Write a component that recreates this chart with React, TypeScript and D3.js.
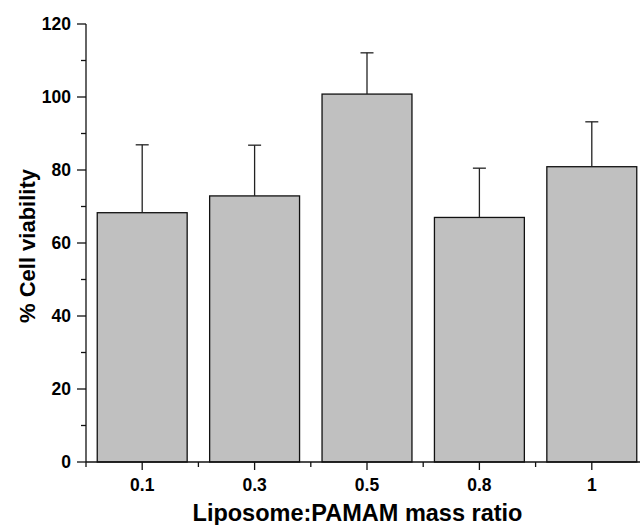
import React from "react";
import * as d3 from "d3";

// Liposome:PAMAM mass ratio vs. cell viability (mean + SD)
const categories = ["0.1", "0.3", "0.5", "0.8", "1"];
const viability = [68.3, 72.9, 100.8, 67.0, 80.9];
const viabilitySD = [18.6, 13.9, 11.3, 13.5, 12.3];
const yMajorTicks = [0, 20, 40, 60, 80, 100, 120];
const yMinorTicks = [10, 30, 50, 70, 90, 110];

const W = 640;
const H = 525;
const margin = { left: 86, top: 24, bottom: 462 };
const FONT = "'Liberation Sans', Arial, Helvetica, sans-serif";

export default function App() {
  const x = d3
    .scaleBand<string>()
    .domain(categories)
    .range([margin.left, 648])
    .paddingInner(0.2)
    .paddingOuter(0.1);
  const y = d3.scaleLinear().domain([0, 120]).range([margin.bottom, margin.top]);

  const step = x.step();
  const bandEdges = d3.range(categories.length + 1).map((i) => margin.left + i * step);
  const capHalf = 6.5;

  return (
    <svg
      width={W}
      height={H}
      style={{ position: "absolute", left: 0, top: 0, background: "#fff" }}
      fontFamily={FONT}
      fontWeight="bold"
    >
      {/* bars */}
      {categories.map((c, i) => (
        <rect
          key={c}
          x={x(c)!}
          y={y(viability[i])}
          width={x.bandwidth()}
          height={y(0) - y(viability[i])}
          fill="#c0c0c0"
          stroke="#111"
          strokeWidth={1.3}
        />
      ))}
      {/* upper error bars */}
      {categories.map((c, i) => {
        const cx = x(c)! + x.bandwidth() / 2;
        const top = y(viability[i] + viabilitySD[i]);
        return (
          <g key={"e" + c} stroke="#222" strokeWidth={1.3}>
            <line x1={cx} x2={cx} y1={y(viability[i])} y2={top} />
            <line x1={cx - capHalf} x2={cx + capHalf} y1={top} y2={top} />
          </g>
        );
      })}

      {/* y axis */}
      <line x1={margin.left} x2={margin.left} y1={y(120)} y2={y(0)} stroke="#111" strokeWidth={1.3} />
      {yMajorTicks.map((t) => (
        <g key={"ym" + t}>
          <line x1={margin.left - 9} x2={margin.left} y1={y(t)} y2={y(t)} stroke="#111" strokeWidth={1.3} />
          <text x={71} y={y(t)} dy="0.36em" textAnchor="end" fontSize={17.5} fill="#000">
            {t}
          </text>
        </g>
      ))}
      {yMinorTicks.map((t) => (
        <line key={"yn" + t} x1={margin.left - 5} x2={margin.left} y1={y(t)} y2={y(t)} stroke="#111" strokeWidth={1.3} />
      ))}

      {/* x axis */}
      <line x1={margin.left} x2={W} y1={y(0)} y2={y(0)} stroke="#111" strokeWidth={1.3} />
      {categories.map((c) => {
        const cx = x(c)! + x.bandwidth() / 2;
        return (
          <g key={"xm" + c}>
            <line x1={cx} x2={cx} y1={y(0)} y2={y(0) + 8} stroke="#111" strokeWidth={1.3} />
            <text x={cx} y={491} textAnchor="middle" fontSize={17.5} fill="#000">
              {c}
            </text>
          </g>
        );
      })}
      {bandEdges.map((e, i) => (
        <line key={"xn" + i} x1={e} x2={e} y1={y(0)} y2={y(0) + 5} stroke="#111" strokeWidth={1.3} />
      ))}

      {/* axis titles */}
      <text x={357.5} y={521} textAnchor="middle" fontSize={23.5} fill="#000">
        Liposome:PAMAM mass ratio
      </text>
      <text
        transform={`translate(35, 246) rotate(-90)`}
        textAnchor="middle"
        fontSize={22}
        fill="#000"
      >
        % Cell viability
      </text>
    </svg>
  );
}
